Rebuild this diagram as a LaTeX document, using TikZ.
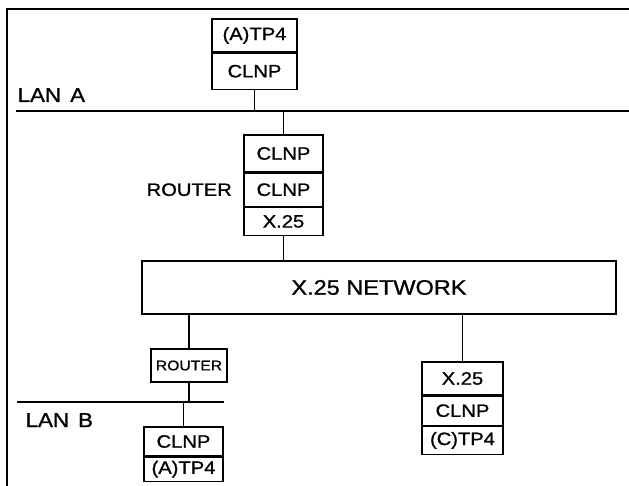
\documentclass[tikz,border=0pt]{standalone}
\usepackage{fontspec}
\setmainfont{Liberation Sans}[FakeStretch=1.12, FakeBold=1]
\usetikzlibrary{positioning}
\begin{document}
\begin{tikzpicture}[x=1pt, y=-1pt, line width=1.2pt,
    layer/.style={draw, inner sep=0pt, minimum width=#1, font=\fontsize{18}{20}\selectfont},
    lbl/.style={inner sep=0pt, font=\fontsize{20}{24}\selectfont}]
  \useasboundingbox (0,0) rectangle (629,486);
  % Rahmen
  \draw (7,486) -- (7,9) -- (629,9);
  % LAN A
  \coordinate (lanA_w) at (16,111);
  \coordinate (lanA_e) at (629,111);
  \draw (lanA_w) -- (lanA_e);
  \node[lbl, anchor=base west] (lanA_lbl) at (17,102) {LAN\hspace{0.45em}A};
  % Endsystem A
  \node[layer=85pt, minimum height=33pt] (hostA_tp) at (254.5,35.5) {(A)TP4};
  \node[layer=85pt, minimum height=36pt, below=0pt of hostA_tp] (hostA_np) {CLNP};
  \draw (hostA_np.south) -- (hostA_np.south |- lanA_w);
  % Router LAN A / X.25
  \node[layer=79pt, minimum height=37pt] (rtr_np1) at (283.5,153.5) {CLNP};
  \node[layer=79pt, minimum height=33pt, below=0pt of rtr_np1] (rtr_np2) {CLNP};
  \node[layer=79pt, minimum height=28pt, below=0pt of rtr_np2] (rtr_x25) {X.25};
  \node[lbl, font=\fontsize{18}{20}\selectfont, left=11pt of rtr_np2] (rtr_lbl) {ROUTER};
  \draw (rtr_np1.north) -- (rtr_np1.north |- lanA_w);
  % X.25 Netz
  \node[draw, minimum width=474pt, minimum height=53pt,
        font=\fontsize{21}{24}\selectfont] (net) at (379,287.5) {X.25 NETWORK};
  \draw (rtr_x25.south) -- (rtr_x25.south |- net.north);
  % Router LAN B
  \node[draw, inner sep=0pt, minimum width=76pt, minimum height=33pt,
        font=\fontsize{14}{16}\selectfont] (rtr2) at (189,365.5) {ROUTER};
  \draw (net.south -| rtr2.north) -- (rtr2.north);
  % LAN B
  \coordinate (lanB_w) at (17,402);
  \coordinate (lanB_e) at (224,402);
  \draw (lanB_w) -- (lanB_e);
  \node[lbl, anchor=base west] (lanB_lbl) at (25,427) {LAN\hspace{0.45em}B};
  \draw (rtr2.south) -- (rtr2.south |- lanB_w);
  % Endsystem B
  \node[layer=79pt, minimum height=29pt] (hostB_np) at (183.5,441.5) {CLNP};
  \node[layer=79pt, minimum height=24pt, below=0pt of hostB_np] (hostB_tp) {(A)TP4};
  \draw (hostB_np.north) -- (hostB_np.north |- lanB_w);
  % Endsystem C
  \node[layer=81pt, minimum height=33pt] (hostC_x25) at (462.5,378.5) {X.25};
  \node[layer=81pt, minimum height=29pt, below=0pt of hostC_x25] (hostC_np) {CLNP};
  \node[layer=81pt, minimum height=28pt, below=0pt of hostC_np] (hostC_tp) {(C)TP4};
  \draw (net.south -| hostC_x25.north) -- (hostC_x25.north);
\end{tikzpicture}
\end{document}
